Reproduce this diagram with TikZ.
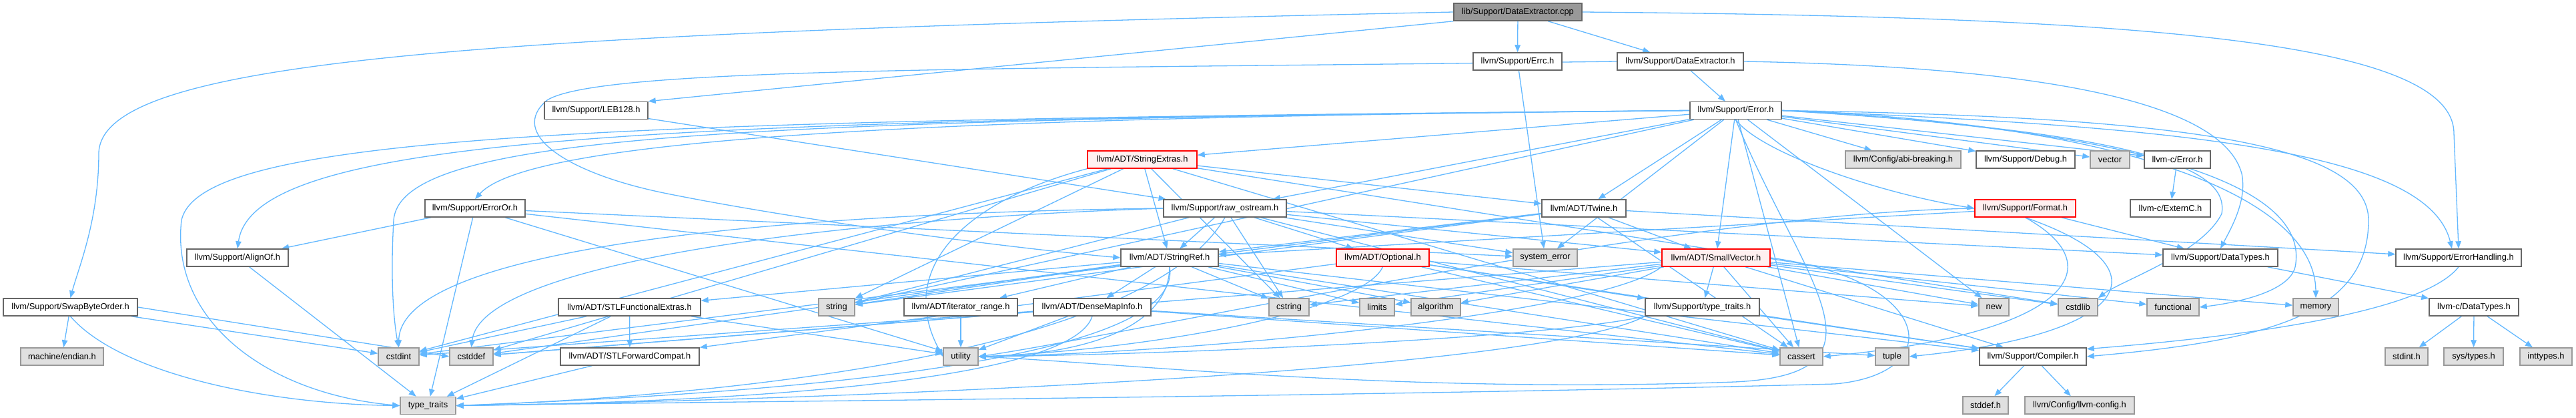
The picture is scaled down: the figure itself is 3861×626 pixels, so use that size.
\documentclass[tikz,border=0pt]{standalone}
\usepackage{fontspec}
\setmainfont{Liberation Sans}
\usetikzlibrary{arrows.meta,backgrounds,calc}
\definecolor{edgec}{HTML}{63B8FF}
\definecolor{bordc}{HTML}{666666}
\definecolor{grayfill}{HTML}{E0E0E0}
\definecolor{grayb}{HTML}{999999}
\definecolor{redfill}{HTML}{FFF0F0}
\definecolor{redb}{HTML}{FF0000}
\definecolor{rootfill}{HTML}{999999}
\tikzset{
 hdr/.style={draw=bordc, fill=white, line width=1.5pt, minimum height=26pt, inner sep=0pt, font=\fontsize{12.9}{15}\selectfont, anchor=center},
 sysh/.style={hdr, draw=grayb, fill=grayfill},
 trunc/.style={hdr, draw=redb, fill=redfill},
 root/.style={hdr, fill=rootfill},
 edge/.style={draw=edgec, line width=1.3pt, -{Triangle[length=11pt,width=8.5pt]}},
}
\begin{document}
\begin{tikzpicture}[x=1pt,y=-1pt]
\useasboundingbox (0,0) rectangle (3861,626);
% row 1
\node[root, minimum width=192pt] (cpp) at (2275,18) {lib/Support/DataExtractor.cpp};
% row 2
\node[hdr, minimum width=133pt] (errc) at (2274.5,92) {llvm/Support/Errc.h};
\node[hdr, minimum width=189pt] (deh) at (2518.5,92) {llvm/Support/DataExtractor.h};
% row 3
\node[hdr, minimum width=155pt] (leb) at (893.5,165.5) {llvm/Support/LEB128.h};
\node[hdr, minimum width=137pt] (error) at (2601.5,165.5) {llvm/Support/Error.h};
% row 4
\node[trunc, minimum width=164pt] (strext) at (1712,239) {llvm/ADT/StringExtras.h};
\node[sysh, minimum width=173pt] (abi) at (2852.5,239) {llvm/Config/abi-breaking.h};
\node[hdr, minimum width=148pt] (debug) at (3036,239) {llvm/Support/Debug.h};
\node[sysh, minimum width=59pt] (vector) at (3162.5,239) {vector};
\node[hdr, minimum width=99pt] (cerror) at (3263.5,239) {llvm-c/Error.h};
% row 5
\node[hdr, minimum width=150pt] (erroror) at (712,312) {llvm/Support/ErrorOr.h};
\node[hdr, minimum width=184pt] (raw) at (1836,312) {llvm/Support/raw\_ostream.h};
\node[hdr, minimum width=126pt] (twine) at (2374,312) {llvm/ADT/Twine.h};
\node[trunc, minimum width=151pt] (format) at (3035.5,312) {llvm/Support/Format.h};
\node[hdr, minimum width=120pt] (externc) at (3253,312) {llvm-c/ExternC.h};
% row 6
\node[hdr, minimum width=152pt] (alignof) at (356,386) {llvm/Support/AlignOf.h};
\node[hdr, minimum width=146pt] (stringref) at (1753,386) {llvm/ADT/StringRef.h};
\node[trunc, minimum width=139pt] (optional) at (2072.5,386) {llvm/ADT/Optional.h};
\node[sysh, minimum width=96pt] (syserr) at (2316,386) {system\_error};
\node[trunc, minimum width=162pt] (smallvec) at (2572,386) {llvm/ADT/SmallVector.h};
\node[hdr, minimum width=172pt] (datatypes) at (3328,386) {llvm/Support/DataTypes.h};
\node[hdr, minimum width=188pt] (errhand) at (3685,386) {llvm/Support/ErrorHandling.h};
% row 7
\node[hdr, minimum width=201pt] (sbo) at (105.5,460) {llvm/Support/SwapByteOrder.h};
\node[hdr, minimum width=213pt] (stlfe) at (943.5,460) {llvm/ADT/STLFunctionalExtras.h};
\node[sysh, minimum width=54pt] (string) at (1254,460) {string};
\node[hdr, minimum width=170pt] (iterrange) at (1440,460) {llvm/ADT/iterator\_range.h};
\node[hdr, minimum width=176pt] (densemap) at (1637,460) {llvm/ADT/DenseMapInfo.h};
\node[sysh, minimum width=60pt] (cstring) at (1932,460) {cstring};
\node[sysh, minimum width=52pt] (limits) at (2064,460) {limits};
\node[sysh, minimum width=74pt] (algorithm) at (2152,460) {algorithm};
\node[hdr, minimum width=171pt] (sttraits) at (2551.5,460) {llvm/Support/type\_traits.h};
\node[sysh, minimum width=45pt] (new) at (2988.5,460) {new};
\node[sysh, minimum width=59pt] (cstdlib) at (3114.5,460) {cstdlib};
\node[sysh, minimum width=78pt] (functional) at (3257,460) {functional};
\node[sysh, minimum width=68pt] (memory) at (3471,460) {memory};
\node[hdr, minimum width=134pt] (cdatatypes) at (3708,460) {llvm-c/DataTypes.h};
% row 8
\node[sysh, minimum width=124pt] (endian) at (93,534) {machine/endian.h};
\node[sysh, minimum width=61pt] (cstdint) at (597.5,534) {cstdint};
\node[sysh, minimum width=65pt] (cstddef) at (706.5,534) {cstddef};
\node[hdr, minimum width=208pt] (stlfc) at (944,534) {llvm/ADT/STLForwardCompat.h};
\node[sysh, minimum width=52pt] (utility) at (1440,534) {utility};
\node[sysh, minimum width=64pt] (cassert) at (2700,534) {cassert};
\node[sysh, minimum width=50pt] (tuple) at (2836,534) {tuple};
\node[hdr, minimum width=160pt] (compiler) at (3047,534) {llvm/Support/Compiler.h};
\node[sysh, minimum width=64pt] (stdint) at (3607,534) {stdint.h};
\node[sysh, minimum width=89pt] (systypes) at (3707.5,534) {sys/types.h};
\node[sysh, minimum width=78pt] (inttypes) at (3816,534) {inttypes.h};
% row 9
\node[sysh, minimum width=83pt] (typetraits) at (641.5,607.5) {type\_traits};
\node[sysh, minimum width=68pt] (stddef) at (2976,607) {stddef.h};
\node[sysh, minimum width=164pt] (llvmconfig) at (3117,607) {llvm/Config/llvm-config.h};

\begin{pgfonlayer}{background}
% DataExtractor.cpp
\draw[edge] (cpp.west) .. controls (700,50) and (150,90) .. (148,230) .. controls (148,330) and (118,400) .. (sbo.north);
\draw[edge] (cpp.south west) -- (leb.north east);
\draw[edge] (cpp) -- (errc);
\draw[edge] (cpp) -- (deh);
\draw[edge] (cpp.east) .. controls (3200,25) and (3678,60) .. (3678,200) -- (errhand.north);
% DataExtractor.h
\draw[edge] (deh) -- (error);
\draw[edge] (deh.west) .. controls (1500,104) and (900,100) .. (820,150) .. controls (760,200) and (850,260) .. (1000,290) .. controls (1200,330) and (1500,370) .. (stringref.west);
\draw[edge] (deh.east) .. controls (3050,100) and (3330,150) .. (3360,260) .. controls (3368,300) and (3345,340) .. (datatypes.north);
% Errc, LEB128
\draw[edge] (errc) -- (syserr);
\draw[edge] (leb) -- (raw);
% SwapByteOrder
\draw[edge] (sbo) -- (endian);
\draw[edge] (sbo) -- (cstdint);
\draw[edge] (sbo.east) -- (cstddef.west);
\draw[edge] (sbo.south) .. controls (180,560) and (400,605) .. (typetraits.west);
% ErrorHandling
\draw[edge] (errhand.south) .. controls (3630,470) and (3350,505) .. (compiler.8);
% Error.h
\draw[edge] (error) -- (cerror);
\draw[edge] (error) -- (debug);
\draw[edge] (error) -- (vector);
\draw[edge] (error) -- (abi);
\draw[edge] (error.south) .. controls (2640,230) and (2820,290) .. (format.west);
\draw[edge] (error) -- (smallvec);
\draw[edge] (error) -- (twine);
\draw[edge] (error) -- (strext);
\draw[edge] (error) -- (raw);
\draw[edge] (error.west) .. controls (1500,175) and (800,200) .. (erroror.north);
\draw[edge] (error.west) .. controls (1000,180) and (380,200) .. (alignof.north);
\draw[edge] (error.west) .. controls (1100,180) and (600,200) .. (590,330) .. controls (585,420) and (590,480) .. (cstdint.north);
\draw[edge] (error.west) .. controls (900,180) and (300,200) .. (272,330) .. controls (255,480) and (400,590) .. (typetraits.west);
\draw[edge] (error.east) .. controls (3300,175) and (3550,220) .. (3550,330) .. controls (3550,470) and (3400,510) .. (compiler.east);
\draw[edge] (error.east) .. controls (3300,190) and (3640,230) .. ($(errhand.north)+(-10,0)$);
\draw[edge] (error) -- (cassert);
\draw[edge] (error.east) .. controls (3250,200) and (3340,260) .. (3330,320) .. controls (3300,380) and (3180,420) .. (cstdlib.north east);
\draw[edge] (error.east) .. controls (3300,200) and (3460,300) .. (3440,400) .. controls (3430,440) and (3340,455) .. (functional.east);
\draw[edge] (error.east) .. controls (3200,185) and (3470,300) .. (memory.north);
\draw[edge] (error) -- (new);
\draw[edge] (error) -- (string);
\draw[edge] (error) -- (syserr);
\draw[edge] (error.south) .. controls (2700,420) and (2850,560) .. (2600,572) .. controls (2100,590) and (1700,545) .. (utility.east);
% llvm-c
\draw[edge] (cerror) -- (externc);
% Format
\draw[edge] (format) -- (stringref);
\draw[edge] (format.west) .. controls (2500,320) and (1700,500) .. (utility.east);
\draw[edge] (format) -- (datatypes);
\draw[edge] (format.south) .. controls (3170,400) and (3100,500) .. (cassert.east);
\draw[edge] (format.south) .. controls (3250,400) and (3200,500) .. (tuple.east);
% raw_ostream
\draw[edge] (raw) -- (smallvec);
\draw[edge] (raw) -- (stringref);
\draw[edge] (raw) -- (optional);
\draw[edge] (raw) -- (datatypes);
\draw[edge] (raw) -- (cassert);
\draw[edge] (raw.west) .. controls (1200,330) and (720,400) .. (cstddef.north);
\draw[edge] (raw.west) .. controls (1100,320) and (600,380) .. (cstdint.north);
\draw[edge] (raw) -- (cstring);
\draw[edge] (raw) -- (string);
\draw[edge] (raw) -- (syserr);
\draw[edge] (raw.south) .. controls (1700,560) and (900,600) .. (typetraits.east);
% Twine
\draw[edge] (twine) -- (smallvec);
\draw[edge] (twine) -- (stringref);
\draw[edge] (twine) -- (errhand);
\draw[edge] (twine) -- (cassert);
\draw[edge] (twine) -- (cstdint);
\draw[edge] (twine) -- (string);
% StringExtras
\draw[edge] (strext) -- (stringref);
\draw[edge] (strext) -- (twine);
\draw[edge] (strext) -- (cassert);
\draw[edge] (strext) -- (cstddef);
\draw[edge] (strext) -- (cstdint);
\draw[edge] (strext) -- (cstdlib);
\draw[edge] (strext) -- (cstring);
\draw[edge] (strext) -- (string);
\draw[edge] (strext.south west) .. controls (1450,300) and (1340,400) .. (utility.west);
% ErrorOr, AlignOf
\draw[edge] (erroror) -- (alignof);
\draw[edge] (erroror) -- (cassert);
\draw[edge] (erroror) -- (syserr);
\draw[edge] (erroror) -- (typetraits);
\draw[edge] (erroror) -- (utility);
\draw[edge] (alignof) -- (typetraits);
% StringRef
\draw[edge] (stringref) -- (densemap);
\draw[edge] (stringref) -- (stlfe);
\draw[edge] (stringref) -- (iterrange);
\draw[edge] (stringref) -- (compiler);
\draw[edge] (stringref) -- (algorithm);
\draw[edge] (stringref) -- (cassert);
\draw[edge] (stringref) -- (cstddef);
\draw[edge] (stringref) -- (cstring);
\draw[edge] (stringref) -- (limits);
\draw[edge] (stringref) -- (string);
\draw[edge] (stringref.south) .. controls (1780,560) and (1000,595) .. (typetraits.east);
\draw[edge] (stringref.south) .. controls (1752,500) and (1600,532) .. (utility.east);
% Optional
\draw[edge] (optional) -- (stlfc);
\draw[edge] (optional) -- (compiler);
\draw[edge] (optional) -- (sttraits);
\draw[edge] (optional) -- (cassert);
\draw[edge] (optional) -- (new);
\draw[edge] (optional.south) .. controls (2040,470) and (1700,525) .. (utility.east);
% SmallVector
\draw[edge] (smallvec) -- (compiler);
\draw[edge] (smallvec) -- (sttraits);
\draw[edge] (smallvec) -- (algorithm);
\draw[edge] (smallvec) -- (cassert);
\draw[edge] (smallvec) -- (cstddef);
\draw[edge] (smallvec) -- (cstdlib);
\draw[edge] (smallvec) -- (cstring);
\draw[edge] (smallvec) -- (functional);
\draw[edge] (smallvec) -- (limits);
\draw[edge] (smallvec) -- (memory);
\draw[edge] (smallvec) -- (new);
\draw[edge] (smallvec.east) .. controls (2900,420) and (2920,560) .. (2750,575) .. controls (2000,595) and (1000,602) .. (typetraits.east);
\draw[edge] (smallvec.south west) .. controls (2400,470) and (1800,528) .. (utility.east);
% llvm/Support/type_traits.h
\draw[edge] (sttraits) -- (compiler);
\draw[edge] (sttraits.south west) .. controls (2300,560) and (1200,600) .. (typetraits.east);
\draw[edge] (sttraits.south west) .. controls (2300,510) and (1700,532) .. (utility.east);
% iterator_range, DenseMapInfo
\draw[edge] (iterrange) -- (utility);
\draw[edge] (densemap) -- (cassert);
\draw[edge] (densemap) -- (cstddef);
\draw[edge] (densemap) -- (cstdint);
\draw[edge] (densemap) -- (tuple);
\draw[edge] (densemap.south) .. controls (1600,590) and (900,605) .. (typetraits.east);
\draw[edge] (densemap) -- (utility);
% STL helpers
\draw[edge] (stlfe) -- (stlfc);
\draw[edge] (stlfe) -- (cstdint);
\draw[edge] (stlfe) -- (typetraits);
\draw[edge] (stlfe) -- (utility);
\draw[edge] (stlfc) -- (typetraits);
% DataTypes
\draw[edge] (datatypes) -- (cdatatypes);
\draw[edge] (cdatatypes) -- (stdint);
\draw[edge] (cdatatypes) -- (systypes);
\draw[edge] (cdatatypes) -- (inttypes);
% Compiler
\draw[edge] (compiler) -- (stddef);
\draw[edge] (compiler) -- (llvmconfig);
\end{pgfonlayer}
\end{tikzpicture}
\end{document}
